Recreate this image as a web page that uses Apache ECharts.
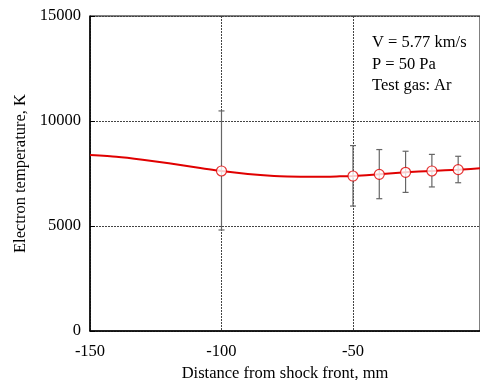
<!DOCTYPE html>
<html>
<head>
<meta charset="utf-8">
<script src="https://cdn.jsdelivr.net/npm/echarts@6/dist/echarts.min.js"></script>
<style>html,body{margin:0;padding:0;background:#fff}#c{width:480px;height:380px}</style>
</head>
<body>
<div id="c"></div>
<script>
// Curve (fitted line) values
var curveX = [-150, -140, -130, -120, -110, -100, -90, -80, -75, -70, -60, -55, -50, -40, -30, -20, -10, 0];
var curveY = [8380, 8300, 8160, 7990, 7800, 7620, 7480, 7380, 7355, 7350, 7350, 7365, 7380, 7460, 7557, 7620, 7683, 7760];
// Measured points
var pointX = [-100, -50, -40, -30, -20, -10];
var pointY = [7620, 7380, 7460, 7557, 7620, 7683];
// Error bars
var errLow = [4810, 5950, 6300, 6600, 6860, 7060];
var errHigh = [10480, 8830, 8640, 8560, 8410, 8320];
var xRange = [-150, -1.7];
var yRange = [0, 15000];
var annotation = ['V = 5.77 km/s', 'P = 50 Pa', 'Test gas: Ar'];

var font = 'Liberation Serif';
var fs = 16.5;
var chart = echarts.init(document.getElementById('c'));
var errData = pointX.map(function (x, i) { return [x, errLow[i], errHigh[i]]; });

chart.setOption({
  animation: false,
  textStyle: { fontFamily: font },
  grid: { left: 90, right: 0, top: 16, bottom: 49, show: true, borderColor: '#000', borderWidth: 1,
    containLabel: false, outerBoundsMode: 'none' },
  xAxis: {
    type: 'value', min: xRange[0], max: xRange[1], interval: 50,
    name: 'Distance from shock front, mm', nameLocation: 'middle', nameGap: 31,
    nameTextStyle: { fontFamily: font, fontSize: fs, color: '#000' },
    axisLine: { show: true, onZero: false, lineStyle: { color: '#000', width: 1.5 } },
    axisTick: { show: false },
    axisLabel: { fontFamily: font, fontSize: fs, color: '#000', margin: 12, showMaxLabel: false,
      formatter: function (v) { return String(v); } },
    splitLine: { show: true, lineStyle: { color: '#444', width: 1, type: [2, 1] } }
  },
  yAxis: {
    type: 'value', min: yRange[0], max: yRange[1], interval: 5000,
    name: 'Electron temperature, K', nameLocation: 'middle', nameGap: 58,
    nameTextStyle: { fontFamily: font, fontSize: fs, color: '#000' },
    axisLine: { show: true, onZero: false, lineStyle: { color: '#000', width: 1.5 } },
    axisTick: { show: true, inside: true, length: 5, lineStyle: { color: '#000' } },
    axisLabel: { fontFamily: font, fontSize: fs, color: '#000', margin: 9,
      formatter: function (v) { return String(v); } },
    splitLine: { show: true, lineStyle: { color: '#444', width: 1, type: [2, 1] } }
  },
  graphic: [{
    type: 'text', left: 372, top: 32,
    style: { text: annotation.join('\n'), font: fs + 'px "Liberation Serif"', fill: '#000', lineHeight: 21.5 }
  }],
  series: [
    {
      type: 'custom',
      data: errData,
      z: 2,
      renderItem: function (params, api) {
        var x = api.value(0);
        var lo = api.coord([x, api.value(1)]);
        var hi = api.coord([x, api.value(2)]);
        var w = 3;
        var st = { stroke: '#666', lineWidth: 1.2 };
        return {
          type: 'group',
          children: [
            { type: 'line', shape: { x1: lo[0], y1: lo[1], x2: hi[0], y2: hi[1] }, style: st },
            { type: 'line', shape: { x1: lo[0] - w, y1: lo[1], x2: lo[0] + w, y2: lo[1] }, style: st },
            { type: 'line', shape: { x1: hi[0] - w, y1: hi[1], x2: hi[0] + w, y2: hi[1] }, style: st }
          ]
        };
      }
    },
    {
      type: 'line',
      data: curveX.map(function (x, i) { return [x, curveY[i]]; }),
      smooth: 0.2,
      showSymbol: false,
      clip: true,
      z: 3,
      lineStyle: { color: '#e00000', width: 2 }
    },
    {
      type: 'scatter',
      data: pointX.map(function (x, i) { return [x, pointY[i]]; }),
      symbol: 'circle', symbolSize: 10,
      z: 4,
      itemStyle: { color: '#fff', borderColor: '#e00000', borderWidth: 1.2 }
    }
  ]
});
</script>
</body>
</html>
